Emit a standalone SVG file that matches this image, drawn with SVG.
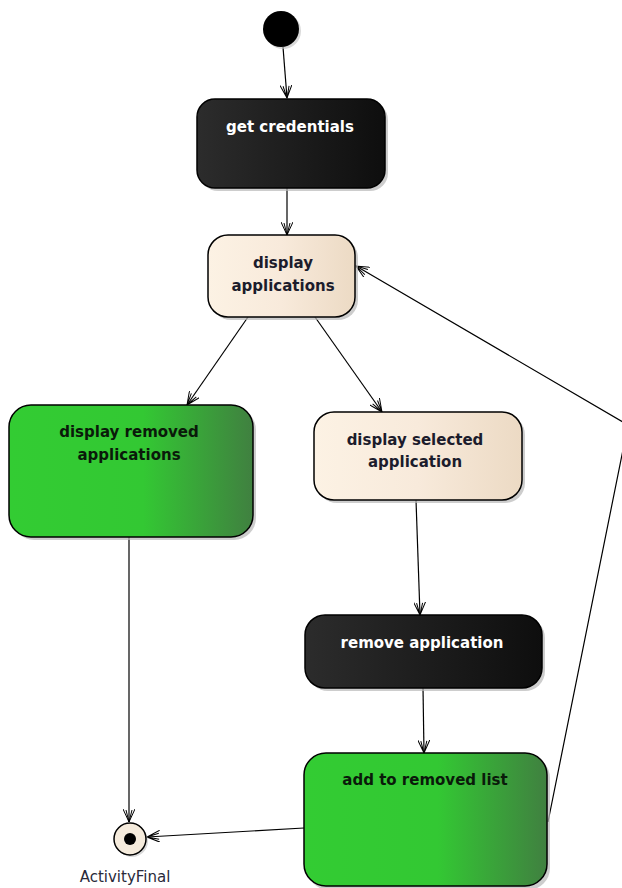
<svg xmlns="http://www.w3.org/2000/svg" width="622" height="888" viewBox="0 0 622 888">
  <style>
    .node { stroke: #000; stroke-width: 1.5; }
    .shadow { fill: #b8b8b8; opacity: 0.7; }
    .lbl { font-family: "DejaVu Sans", Verdana, sans-serif; font-weight: bold; font-size: 15px; text-anchor: middle; }
    .light { fill: #1c1c2c; }
    .darkt { fill: #ffffff; }
    .green { fill: #0a1a0a; }
    .edge { fill: none; stroke: #000; stroke-width: 1.2; }
  </style>
  <defs>
    <linearGradient id="gDark" x1="0" y1="0" x2="1" y2="0">
      <stop offset="0" stop-color="#2c2c2c"/>
      <stop offset="1" stop-color="#0e0e0e"/>
    </linearGradient>
    <linearGradient id="gBeige" x1="0" y1="0" x2="1" y2="0">
      <stop offset="0" stop-color="#fcf2e4"/>
      <stop offset="0.5" stop-color="#f8eadb"/>
      <stop offset="1" stop-color="#ecdac4"/>
    </linearGradient>
    <linearGradient id="gGreen" x1="0" y1="0" x2="1" y2="0">
      <stop offset="0" stop-color="#33cc33"/>
      <stop offset="0.55" stop-color="#33c833"/>
      <stop offset="1" stop-color="#408040"/>
    </linearGradient>
    <marker id="open" viewBox="0 0 14 12" refX="13" refY="6" markerWidth="14" markerHeight="12" markerUnits="userSpaceOnUse" orient="auto">
      <path d="M0,0 L13,6 L0,12 M1,3 L13,6 L1,9" fill="none" stroke="#000" stroke-width="1"/>
    </marker>
  </defs>

  <rect width="622" height="888" fill="#ffffff"/>

  <!-- connectors -->
  <g id="connectors">
    <line class="edge" x1="283" y1="47" x2="287" y2="98" marker-end="url(#open)"/>
    <line class="edge" x1="287" y1="188" x2="287" y2="235" marker-end="url(#open)"/>
    <line class="edge" x1="248" y1="317" x2="187" y2="405" marker-end="url(#open)"/>
    <line class="edge" x1="315" y1="317" x2="382" y2="412" marker-end="url(#open)"/>
    <line class="edge" x1="416" y1="500" x2="420" y2="615" marker-end="url(#open)"/>
    <line class="edge" x1="423" y1="688" x2="424" y2="753" marker-end="url(#open)"/>
    <line class="edge" x1="129" y1="537" x2="129" y2="822" marker-end="url(#open)"/>
    <line class="edge" x1="304" y1="828" x2="147" y2="837" marker-end="url(#open)"/>
    <polyline class="edge" points="548,822 628,425 356,266" marker-end="url(#open)"/>
  </g>

  <!-- start -->
  <g id="initial">
    <circle cx="283" cy="31" r="18" fill="#c0c0c0" opacity="0.6"/>
    <circle cx="281" cy="29" r="18" fill="#000"/>
  </g>

  <g id="get-credentials">
    <rect class="shadow" x="200" y="102" width="188" height="89" rx="18"/>
    <rect class="node" x="197" y="99" width="188" height="89" rx="18" fill="url(#gDark)"/>
    <text class="lbl darkt" x="290" y="132">get credentials</text>
  </g>

  <g id="display-applications">
    <rect class="shadow" x="211" y="238" width="147" height="82" rx="20"/>
    <rect class="node" x="208" y="235" width="147" height="82" rx="20" fill="url(#gBeige)"/>
    <text class="lbl light" x="283" y="268">display</text>
    <text class="lbl light" x="283" y="291">applications</text>
  </g>

  <g id="display-removed-applications">
    <rect class="shadow" x="12" y="408" width="244" height="132" rx="22"/>
    <rect class="node" x="9" y="405" width="244" height="132" rx="22" fill="url(#gGreen)"/>
    <text class="lbl green" x="129" y="437">display removed</text>
    <text class="lbl green" x="129" y="460">applications</text>
  </g>

  <g id="display-selected-application">
    <rect class="shadow" x="317" y="415" width="208" height="88" rx="20"/>
    <rect class="node" x="314" y="412" width="208" height="88" rx="20" fill="url(#gBeige)"/>
    <text class="lbl light" x="415" y="445">display selected</text>
    <text class="lbl light" x="415" y="467">application</text>
  </g>

  <g id="remove-application">
    <rect class="shadow" x="308" y="618" width="237" height="73" rx="20"/>
    <rect class="node" x="305" y="615" width="237" height="73" rx="20" fill="url(#gDark)"/>
    <text class="lbl darkt" x="422" y="648">remove application</text>
  </g>

  <g id="add-to-removed-list">
    <rect class="shadow" x="307" y="756" width="243" height="134" rx="22"/>
    <rect class="node" x="304" y="753" width="243" height="133" rx="22" fill="url(#gGreen)"/>
    <text class="lbl green" x="425" y="785">add to removed list</text>
  </g>

  <g id="activity-final">
    <circle cx="132" cy="841" r="16" fill="#c0c0c0" opacity="0.6"/>
    <circle cx="130" cy="839" r="16" fill="#f5ebdc" stroke="#000" stroke-width="1.5"/>
    <circle cx="130" cy="839" r="6" fill="#000"/>
    <text x="125" y="882" font-family="DejaVu Sans, Verdana, sans-serif" font-size="15" text-anchor="middle" fill="#2a2a3a">ActivityFinal</text>
  </g>
</svg>
